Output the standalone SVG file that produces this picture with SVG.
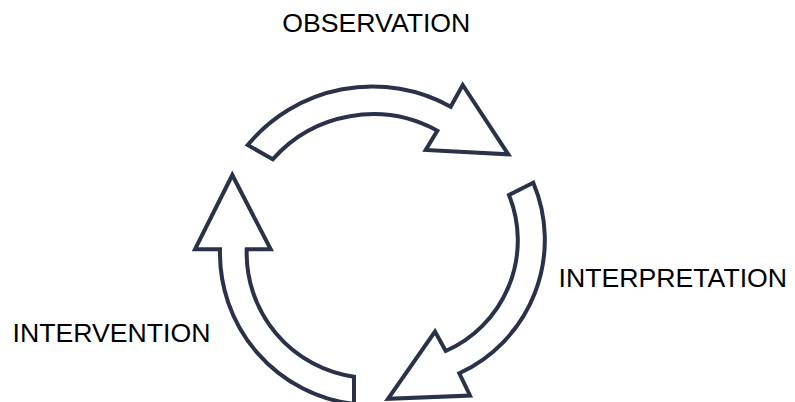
<svg xmlns="http://www.w3.org/2000/svg" width="795" height="402" viewBox="0 0 795 402">
  <style>
    .lbl { font-family: "Liberation Sans", Arial, sans-serif; font-size: 26.67px; fill: #000000; }
    .arrow { fill: #ffffff; stroke: #2a3148; stroke-width: 4; stroke-linejoin: miter; stroke-miterlimit: 10; }
  </style>
  <rect width="795" height="402" fill="#ffffff"/>
  <g id="connectors">
    <path id="arrow-observation" class="arrow" d="M 247.7 145 A 162 162 0 0 1 450.7 106.7 L 462.7 85 L 508.3 154.3 L 425.7 150 L 437.3 130.7 A 134 134 0 0 0 272.7 159.3 Z"/>
    <path id="arrow-interpretation" class="arrow" d="M 533.3 182.7 A 147 147 0 0 1 459.3 373.3 L 470 395.5 L 388 398.8 L 435 331.5 L 445.7 351 A 121 121 0 0 0 509 195 Z"/>
    <path id="arrow-intervention" class="arrow" d="M 354 404 L 354 376.7 A 125 125 0 0 1 246.7 249.3 L 270.7 249.3 L 232.3 175 L 195 249.3 L 220 249.3 A 152 152 0 0 0 354 404 Z"/>
  </g>
  <g id="node-observation">
    <text class="lbl" x="376.3" y="32.3" text-anchor="middle">OBSERVATION</text>
  </g>
  <g id="node-interpretation">
    <text class="lbl" x="558.5" y="287.3">INTERPRETATION</text>
  </g>
  <g id="node-intervention">
    <text class="lbl" x="12.5" y="342.3">INTERVENTION</text>
  </g>
</svg>
